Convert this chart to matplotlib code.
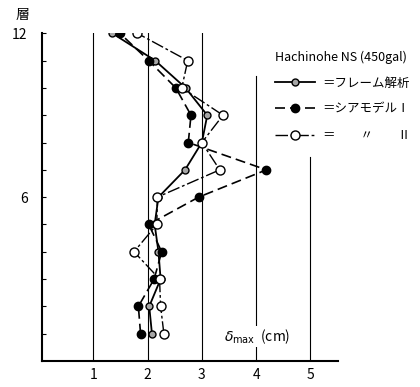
import matplotlib
matplotlib.use('Agg')
import matplotlib.pyplot as plt

plt.rcParams['font.family'] = ['Noto Sans CJK JP', 'DejaVu Sans']

floors = [1, 2, 3, 4, 5, 6, 7, 8, 9, 10, 11, 12]
frame = [2.08, 2.03, 2.24, 2.20, 2.13, 2.20, 2.69, 3.00, 3.10, 2.70, 2.14, 1.35]
shear_1 = [1.87, 1.83, 2.12, 2.26, 2.02, 2.94, 4.19, 2.75, 2.80, 2.52, 2.02, 1.49]
shear_2 = [2.30, 2.24, 2.22, 1.75, 2.17, 2.18, 3.33, 3.00, 3.39, 2.63, 2.74, 1.81]

grid_x = [1, 2, 3, 4, 5]
grid_top = [12.08, 12.0, 12.0, 10.44, 7.47]

labels = ['＝フレーム解析', '＝シアモデルⅠ', '＝　　〃　　Ⅱ']
legend_title = 'Hachinohe NS (450gal)'


def main():
    fig = plt.figure(figsize=(4.2, 3.87), dpi=100)
    ax = fig.add_axes([41.5 / 420, 26 / 387, (338 - 41.5) / 420, (361 - 33.3) / 387])

    for gx, top in zip(grid_x, grid_top):
        ax.plot([gx, gx], [0, top], color='black', lw=0.8, zorder=1)

    ax.plot(frame, floors, '-', color='black', lw=1.3, marker='o', ms=5,
            mfc='0.65', mec='black', mew=1.0, label=labels[0], zorder=3)
    ax.plot(shear_1, floors, color='black', lw=1.2, ls=(0, (6, 3)), marker='o',
            ms=6, mfc='black', mec='black', label=labels[1], zorder=3)
    ax.plot(shear_2, floors, color='black', lw=1.0, ls=(0, (9, 2, 2, 2)),
            marker='o', ms=6.5, mfc='white', mec='black', mew=1.0,
            label=labels[2], zorder=3)

    ax.set_xlim(0.044, 5.51)
    ax.set_ylim(0, 12)
    ax.spines['top'].set_visible(False)
    ax.spines['right'].set_visible(False)
    ax.spines['left'].set_linewidth(1.5)
    ax.spines['bottom'].set_linewidth(1.5)

    ax.set_xticks(grid_x)
    ax.tick_params(axis='x', length=0, labelsize=10, pad=5)
    ax.set_yticks(floors)
    ax.set_yticklabels(['6' if f == 6 else '12' if f == 12 else '' for f in floors])
    ax.tick_params(axis='y', direction='in', length=3, labelsize=10, pad=10)

    fig.text(22 / 420, 1 - 15 / 387, '層', fontsize=10, ha='center', va='center')

    ax.text(4.02, 0.9, r'$\delta_{\rm max}$  (cm)', fontsize=10, ha='center',
            va='center', bbox=dict(facecolor='white', edgecolor='none', pad=1),
            zorder=2)

    leg = ax.legend(title=legend_title, loc='upper left',
                    bbox_to_anchor=(264 / 420, 1 - 39 / 387),
                    bbox_transform=fig.transFigure, frameon=False,
                    fontsize=9, title_fontsize=9, handlelength=3.2,
                    handletextpad=0.6, labelspacing=1.05, alignment='left')
    leg.set_zorder(5)

    fig.savefig('out.png', dpi=100)


if __name__ == '__main__':
    main()
